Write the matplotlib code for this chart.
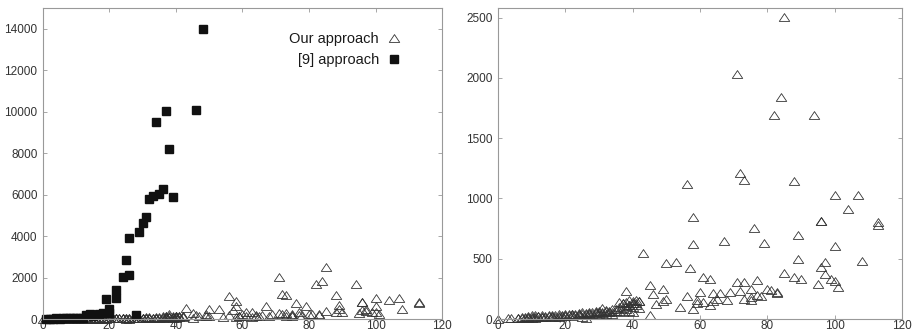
import numpy as np
import matplotlib
matplotlib.use('Agg')
from matplotlib import pyplot as plt
from matplotlib.path import Path

plt.rcParams['font.family'] = ['Liberation Sans', 'DejaVu Sans']

# "Our approach" (triangles) - same series in both panels
ours_x = [0, 3, 4, 6, 6, 7, 7, 8, 8, 9, 9, 9, 10, 10, 10, 11, 11, 11, 12, 12,
          13, 13, 13, 14, 14, 15, 15, 16, 16, 16, 17, 17, 18, 18, 18, 19, 19,
          20, 20, 20, 21, 21, 22, 22, 22, 23, 23, 24, 24, 24, 25, 25, 25,
          26, 26, 26, 27, 27, 27, 28, 28, 29, 29, 29, 30, 30, 30, 31, 31, 31,
          32, 32, 32, 33, 33, 34, 34, 34, 35, 35, 36, 36, 36, 37, 37, 37,
          38, 38, 38, 39, 39, 39, 40, 40, 40, 40, 41, 41, 42, 42,
          37, 38, 39, 40, 41, 42, 43, 45, 45, 46, 47, 49, 49, 50, 50, 53, 54,
          56, 56, 57, 58, 58, 58, 59, 59, 60, 61, 61, 63, 63, 64, 64, 65, 66,
          67, 68, 69, 71, 71, 72, 72, 73, 73, 73, 75, 75, 75, 76, 77, 77, 78,
          79, 80, 81, 82, 83, 83, 84, 85, 85, 88, 88, 89, 89, 90, 94, 95, 96,
          96, 96, 97, 97, 99, 100, 100, 100, 101, 104, 107, 108, 113, 113]
ours_y = [0, 5, 8, 5, 10, 10, 15, 12, 20, 15, 25, 8, 20, 30, 10, 18, 35, 12, 22, 28,
          20, 30, 15, 25, 18, 22, 30, 25, 35, 15, 30, 20, 28, 38, 20, 32, 22,
          35, 40, 25, 30, 42, 38, 28, 45, 40, 30, 45, 35, 50, 42, 20, 55,
          48, 38, 10, 50, 60, 40, 55, 45, 60, 48, 65, 55, 70, 42, 90, 60, 50,
          65, 45, 75, 70, 55, 60, 80, 40, 85, 65, 100, 70, 140, 130, 90, 60,
          110, 140, 80, 160, 120, 70, 150, 100, 60, 130, 160, 120, 150, 90,
          130, 229, 113, 130, 135, 146, 544, 285, 30, 207, 124, 251, 146, 461, 168, 472, 97,
          1119, 190, 422, 848, 624, 80, 157, 135, 224, 345, 141, 334, 113, 213, 146, 163, 213,
          644, 157, 224, 2036, 309, 1213, 235, 1157, 309, 163, 251, 185, 157, 754, 323, 202, 190,
          632, 251, 240, 1696, 224, 213, 1843, 2505, 384, 1146, 345, 699, 494, 334, 1696, 290, 809,
          434, 809, 472, 373, 329, 1030, 605, 318, 262, 909, 1025, 483, 804, 776]

# "[9] approach" (filled squares) - left panel only
ref_x = [1, 2, 3, 4, 5, 6, 7, 8, 9, 10, 11, 12, 13, 14, 15, 16, 17, 18,
         19, 20, 20, 22, 22, 24, 25, 26, 26, 28, 29, 30, 31, 32, 33, 34,
         35, 36, 37, 38, 39, 46, 48]
ref_y = [10, 15, 20, 25, 20, 30, 35, 30, 40, 45, 50, 60, 200, 220, 150, 190, 250, 270,
         960, 270, 480, 1000, 1400, 2020, 2830, 2100, 3930, 180, 4220, 4610, 4900, 5810, 5940, 9520,
         6050, 6280, 10030, 8190, 5890, 10100, 14000]

tri = Path([(-1, -0.75), (1, -0.75), (0, 0.75), (-1, -0.75)], closed=True)
edge = '#333333'
axis_col = '#999999'
txt_col = '#333333'

fig = plt.figure(figsize=(9.18, 3.34), dpi=100)
ax1 = fig.add_axes([0.0468, 0.0449, 0.4347, 0.931])
ax2 = fig.add_axes([0.5425, 0.0449, 0.4401, 0.931])

ax1.plot(ours_x, ours_y, linestyle='none', marker=tri, markersize=7.5,
         markerfacecolor='none', markeredgecolor=edge, markeredgewidth=0.6,
         label='Our approach', clip_on=False)
ax1.plot(ref_x, ref_y, linestyle='none', marker='s', markersize=5.3,
         color='#111111', label='[9] approach', clip_on=False)
ax1.set_xlim(0, 120)
ax1.set_ylim(0, 15000)
ax1.set_yticks(np.arange(0, 14001, 2000))

ax2.plot(ours_x, ours_y, linestyle='none', marker=tri, markersize=7.5,
         markerfacecolor='none', markeredgecolor=edge, markeredgewidth=0.6,
         clip_on=False)
ax2.set_xlim(0, 120)
ax2.set_ylim(0, 2580)
ax2.set_yticks(np.arange(0, 2501, 500))

for ax in (ax1, ax2):
    ax.set_xticks(np.arange(0, 121, 20))
    for s in ax.spines.values():
        s.set_color(axis_col)
        s.set_linewidth(0.8)
    ax.tick_params(direction='in', length=3, width=0.6, color=axis_col,
                   top=True, right=True, labelsize=8.5, labelcolor=txt_col)
    ax.tick_params(axis='x', pad=1)
    ax.tick_params(axis='y', pad=4)

leg = ax1.legend(loc='upper right', bbox_to_anchor=(0.93, 0.965), frameon=False,
                 markerfirst=False, fontsize=10.5, handletextpad=0.5,
                 labelspacing=0.45, handlelength=1.0)
for t in leg.get_texts():
    t.set_color('#1a1a1a')

plt.savefig('out.png', dpi=100)
